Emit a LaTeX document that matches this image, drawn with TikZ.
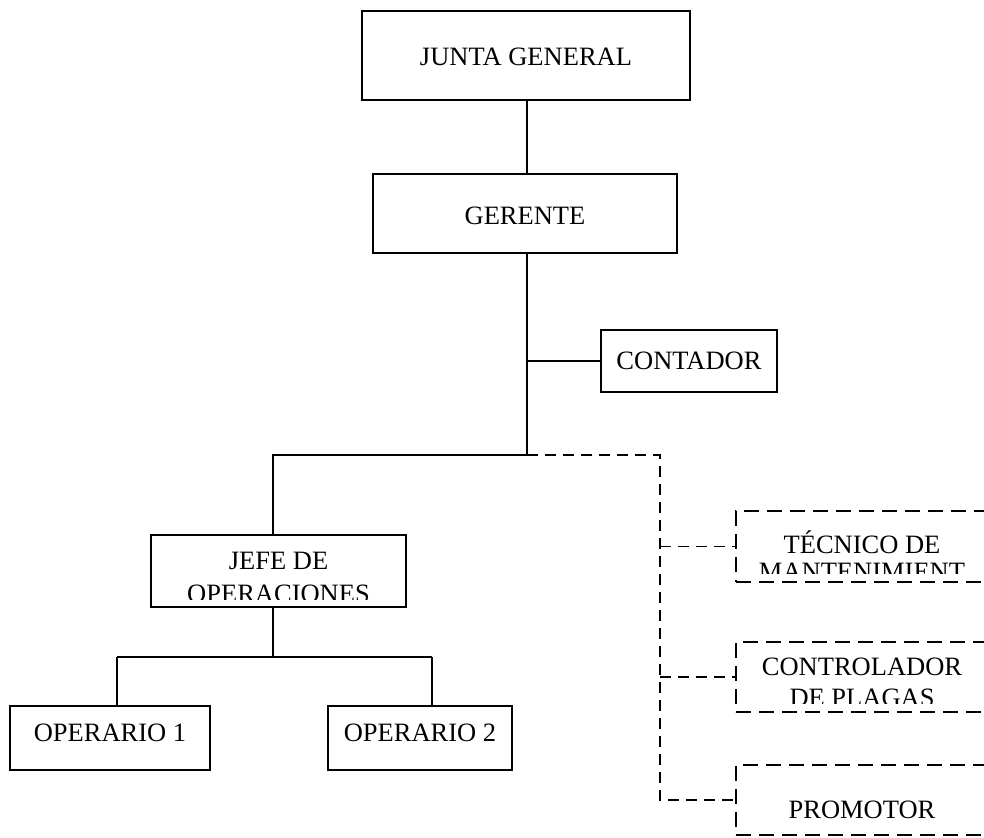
\documentclass[tikz,border=0pt]{standalone}
\usepackage{fontspec}
\setmainfont{Liberation Serif}
\begin{document}
\begin{tikzpicture}[x=1pt,y=-1pt,
  box/.style={draw=black, line width=2.8pt, inner sep=0pt, rectangle},
  dbox/.style={box, dash pattern=on 15pt off 8pt},
  lbl/.style={anchor=base, inner sep=0pt, font=\fontsize{26.5}{30}\selectfont},
  link/.style={line width=1.3pt},
  dlink/.style={line width=1.3pt, dash pattern=on 11pt off 7pt}]
\useasboundingbox (0,0) rectangle (984,837);

% solid boxes
\node[box, minimum width=328pt, minimum height=89pt] (jg) at (526,55.5) {};
\node[lbl] (jgt) at (526,66) {JUNTA GENERAL};
\node[box, minimum width=304pt, minimum height=79pt] (ge) at (525,213.5) {};
\node[lbl] (get) at (525,224) {GERENTE};
\node[box, minimum width=176pt, minimum height=62pt] (co) at (689,361) {};
\node[lbl] (cot) at (689,369) {CONTADOR};
\node[box, minimum width=255pt, minimum height=72pt] (jf) at (278.5,571) {};
\node[box, minimum width=200pt, minimum height=64pt] (o1) at (110,738) {};
\node[lbl] (o1t) at (110,741) {OPERARIO 1};
\node[box, minimum width=184pt, minimum height=64pt] (o2) at (420,738) {};
\node[lbl] (o2t) at (420,741) {OPERARIO 2};

% dashed boxes
\node[dbox, minimum width=252pt, minimum height=71pt] (tm) at (862,546.5) {};
\node[dbox, minimum width=252pt, minimum height=70pt] (cp) at (862,677) {};
\node[dbox, minimum width=252pt, minimum height=70pt] (pr) at (862,800) {};
\node[lbl] (prt) at (862,818) {PROMOTOR};

% two-line labels cut off by the lower edge of their boxes
\begin{scope}
  \clip ([shift={(3,-9)}]jf.south west) rectangle ([shift={(-3,3)}]jf.north east);
  \node[lbl] (jft1) at (278.5,569) {JEFE DE};
  \node[lbl] (jft2) at (278.5,602) {OPERACIONES};
\end{scope}
\begin{scope}
  \clip ([shift={(3,-10)}]tm.south west) rectangle ([shift={(-3,3)}]tm.north east);
  \node[lbl] (tmt1) at (862,553) {TÉCNICO DE};
  \node[lbl] (tmt2) at (862,580) {MANTENIMIENT};
\end{scope}
\begin{scope}
  \clip ([shift={(3,-10)}]cp.south west) rectangle ([shift={(-3,3)}]cp.north east);
  \node[lbl] (cpt1) at (862,675) {CONTROLADOR};
  \node[lbl] (cpt2) at (862,706) {DE PLAGAS};
\end{scope}

% junction points
\coordinate (hub) at (527,455);
\coordinate (hl) at (273,455);
\coordinate (hr) at (660,455);
\coordinate (ob) at (273,657);
\coordinate (ol) at (117,657);
\coordinate (or) at (432,657);

% solid connectors
\draw[link] (jg.south -| hub) -- (ge.north -| hub);
\draw[link] (ge.south -| hub) -- (hub);
\draw[link] (co.west -| hub) -- (co.west);
\draw[link] (hub) -- (hl) -- (jf.north -| hl);
\draw[link] (jf.south -| ob) -- (ob);
\draw[link] (ol) -- (or);
\draw[link] (ol) -- (o1.north -| ol);
\draw[link] (or) -- (o2.north -| or);

% dashed connectors
\draw[dlink] (hub) -- (hr) -- (pr.west -| hr) -- (pr.west);
\draw[dlink] (tm.west -| hr) -- (tm.west);
\draw[dlink] (cp.west -| hr) -- (cp.west);
\end{tikzpicture}
\end{document}
